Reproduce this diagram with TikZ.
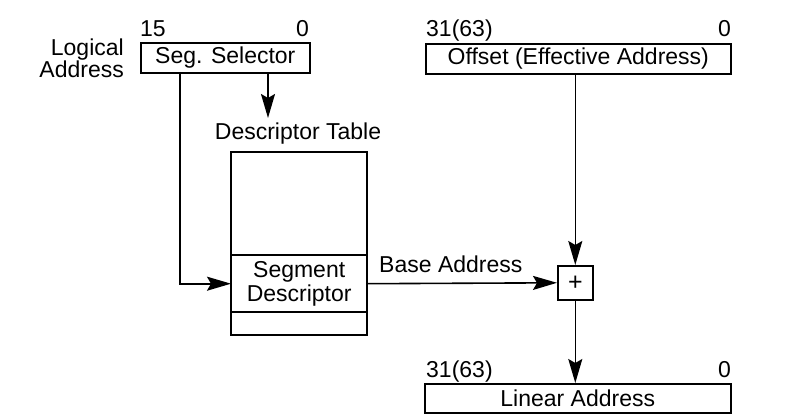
\documentclass[tikz,border=0pt]{standalone}
\usepackage{fontspec}
\setmainfont{Liberation Sans}
\usetikzlibrary{arrows.meta}
\begin{document}
\begin{tikzpicture}[x=1pt,y=-1pt,
  every node/.style={font=\fontsize{23}{25}\selectfont, inner sep=0pt},
  box/.style={draw, line width=1.6pt},
  ln/.style={line width=1.6pt},
  arr/.style={ln, -{Stealth[length=24pt,width=14pt,inset=4pt]}}]
\useasboundingbox (0,0) rectangle (801,420);
% Segment selector
\node[box, minimum width=169pt, minimum height=30pt, anchor=north west] (sel) at (140,42) {Seg. Selector};
\node[anchor=base west] (s15) at (140,37) {15};
\node[anchor=base east] (s0) at (309,37) {0};
\node[align=right, anchor=east, font=\fontsize{23}{22}\selectfont] (la) at (124,58) {Logical\\Address};
% Offset
\node[box, minimum width=305pt, minimum height=30pt, anchor=north west] (off) at (425,43) {Offset (Effective Address)};
\node[anchor=base west] (o31) at (426,37) {31(63)};
\node[anchor=base east] (o0) at (731,37) {0};
% Descriptor table
\node (dtl) at (298,134) {Descriptor Table};
\coordinate (dtop) at (268,118);
\coordinate (selL) at (180,72);
\draw[box] (231,152) rectangle (367,335);
\node[minimum width=136pt, minimum height=57pt, anchor=north west, align=center, font=\fontsize{23}{24}\selectfont] (seg) at (231,255) {Segment\\Descriptor};
\draw[ln] (231,255) -- (367,255);
\draw[ln] (231,312) -- (367,312);
% plus
\node[box, minimum width=35pt, minimum height=34pt, anchor=north west, font=\fontsize{25}{25}\selectfont] (plus) at (557,265) {+};
% linear
\node[box, minimum width=306pt, minimum height=29pt, anchor=north west] (lin) at (424,383) {Linear Address};
\node[anchor=base west] (l31) at (426,377) {31(63)};
\node[anchor=base east] (l0) at (731,377) {0};
% connectors
\draw[arr] (sel.south -| dtop) -- (dtop);
\draw[arr] (selL) |- (seg.west);
\draw[arr] (seg.east) -- node[pos=0.44, above=10pt] (ba) {Base Address} (plus.west);
\draw[arr] (off.south -| plus.north) -- (plus.north);
\draw[arr] (plus.south) -- (lin.north -| plus.south);
\end{tikzpicture}
\end{document}
